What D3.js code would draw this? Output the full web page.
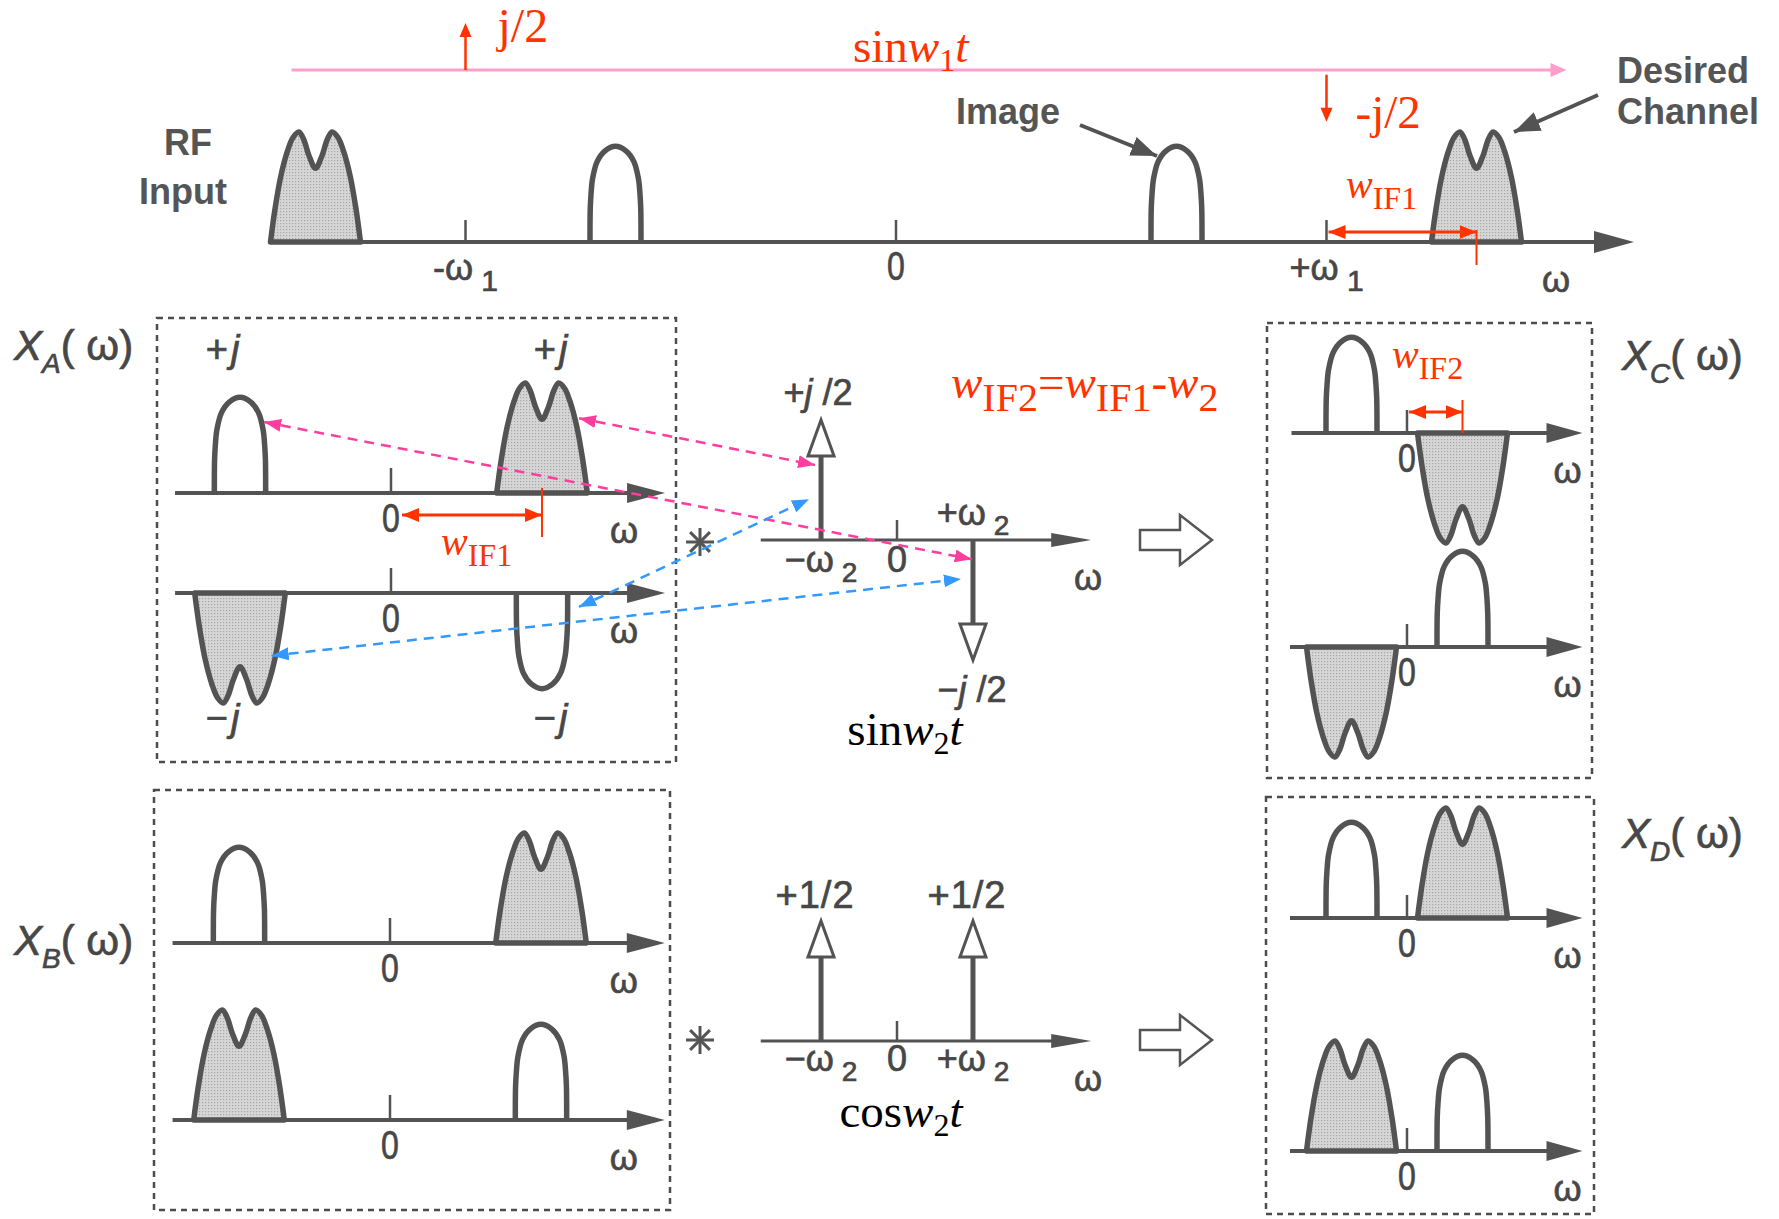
<!DOCTYPE html>
<html>
<head>
<meta charset="utf-8">
<script src="https://cdn.jsdelivr.net/npm/d3@7"></script>
<style>
  body { margin: 0; background: #fff; }
  svg { display: block; }
</style>
</head>
<body>
<div id="chart"></div>
<script>
// Frequencies are in units of the first IF (wIF1 = 1)
const W1 = 2.87;
const IF1 = 1;
const W2 = 0.63;
const IF2 = 0.37;

const rfBands = [
  { f: -W1 - IF1, shape: 'M', amp: 1 },
  { f: -W1 + IF1, shape: 'bump', amp: 1 },
  { f: W1 - IF1, shape: 'bump', amp: 1 },
  { f: W1 + IF1, shape: 'M', amp: 1 },
];
const rfTicks = [
  { f: -W1, text: '-ω', sub: '1' },
  { f: 0, text: '0' },
  { f: W1, text: '+ω', sub: '1' },
];
const loImpulses = [
  { f: -W1, amp: 1, label: 'j/2' },
  { f: W1, amp: -1, label: '-j/2' },
];

const xaUpper = [{ f: -IF1, shape: 'bump', amp: 1 }, { f: IF1, shape: 'M', amp: 1 }];
const xaLower = [{ f: -IF1, shape: 'M', amp: -1 }, { f: IF1, shape: 'bump', amp: -1 }];
const xaLabels = [
  { row: 'aU', f: -IF1, text: '+' },
  { row: 'aU', f: IF1, text: '+' },
  { row: 'aL', f: -IF1, text: '−' },
  { row: 'aL', f: IF1, text: '−' },
];
const xbUpper = [{ f: -IF1, shape: 'bump', amp: 1 }, { f: IF1, shape: 'M', amp: 1 }];
const xbLower = [{ f: -IF1, shape: 'M', amp: 1 }, { f: IF1, shape: 'bump', amp: 1 }];
const xcUpper = [{ f: -IF2, shape: 'bump', amp: 1 }, { f: IF2, shape: 'M', amp: -1 }];
const xcLower = [{ f: -IF2, shape: 'M', amp: -1 }, { f: IF2, shape: 'bump', amp: 1 }];
const xdUpper = [{ f: -IF2, shape: 'bump', amp: 1 }, { f: IF2, shape: 'M', amp: 1 }];
const xdLower = [{ f: -IF2, shape: 'M', amp: 1 }, { f: IF2, shape: 'bump', amp: 1 }];

const sinImpulses = [{ f: -W2, amp: 1, sign: '+' }, { f: W2, amp: -1, sign: '−' }];
const cosImpulses = [{ f: -W2, amp: 1 }, { f: W2, amp: 1 }];
const lo2Ticks = [
  { f: -W2, text: '−ω', sub: '2' },
  { f: 0, text: '0' },
  { f: W2, text: '+ω', sub: '2' },
];

// [axis, f, amplitude] pairs joined by the coloured dashed arrows
const connectors = [
  { color: 'pink', from: ['aU', 1.245, 0.68], to: ['sin', -0.68, 0.625] },
  { color: 'pink', from: ['aU', -0.84, 0.645], to: ['sin', 0.62, -0.16] },
  { color: 'blue', from: ['aL', 1.245, -0.127], to: ['sin', -0.73, 0.34] },
  { color: 'blue', from: ['aL', -0.79, -0.57], to: ['sin', 0.53, -0.325] },
];

const INK = '#474747';
const SHAPE = '#535353';
const RED = '#ff3300';
const PINK_LINE = '#ff9dcc';
const DASH = { pink: '#ff3d9e', blue: '#3399ff' };
const SANS = "'Liberation Sans', Arial, Helvetica, sans-serif";
const SERIF = "'Liberation Serif', 'Times New Roman', serif";

const M_HALF = 0.3;
const BUMP_HALF = 0.17;
const M_PROFILE = [[-1, 0], [-0.9, 0.3], [-0.77, 0.6], [-0.62, 0.83], [-0.5, 0.95], [-0.37, 1],
  [-0.26, 0.93], [-0.14, 0.78], [0, 0.67], [0.14, 0.78], [0.26, 0.93], [0.37, 1], [0.5, 0.95],
  [0.62, 0.83], [0.77, 0.6], [0.9, 0.3], [1, 0]];
const BUMP_PROFILE = [[-1, 0], [-0.99, 0.35], [-0.96, 0.5], [-0.9, 0.66], [-0.72, 0.84], [-0.42, 0.95],
  [0, 1], [0.42, 0.95], [0.72, 0.84], [0.9, 0.66], [0.96, 0.5], [0.99, 0.35], [1, 0]];
const BUMP_PEAK = 0.87;

const big = { k: 151, h: 110, tick: 25, head: [38, 10], lw: 4 };
const small = { k: 150, h: 110, tick: 23, head: [36, 10], lw: 4 };
const lo = { k: 120.6, h: 120, tick: 20, head: [40, 7], lw: 3 };
const AXES = {
  rf: { x0: 896, y: 242, k: 150, h: 110, tick: 22, head: [40, 11], lw: 4, from: -4.18, to: 4.92, wdx: -78 },
  aU: { ...big, x0: 391, y: 493, from: -1.43, to: 1.815, wdx: -41 },
  aL: { ...big, x0: 391, y: 593, from: -1.43, to: 1.815, wdx: -41 },
  bU: { ...big, x0: 390, y: 943, from: -1.44, to: 1.82, wdx: -41 },
  bL: { ...big, x0: 390, y: 1120, from: -1.44, to: 1.82, wdx: -41 },
  cU: { ...small, x0: 1407, y: 433, from: -0.77, to: 1.17, wdx: -15 },
  cL: { ...small, x0: 1407, y: 647, from: -0.78, to: 1.17, wdx: -15 },
  dU: { ...small, x0: 1407, y: 918, from: -0.78, to: 1.17, wdx: -15 },
  dL: { ...small, x0: 1407, y: 1151, from: -0.78, to: 1.17, wdx: -15 },
  sin: { ...lo, x0: 897, y: 540, from: -1.13, to: 1.61, wdx: -3 },
  cos: { ...lo, x0: 897, y: 1041, from: -1.13, to: 1.61, wdx: -3 },
};

const ax = {};
Object.entries(AXES).forEach(([id, c]) => {
  ax[id] = {
    ...c,
    x: d3.scaleLinear().domain([0, 1]).range([c.x0, c.x0 + c.k]),
    y: d3.scaleLinear().domain([0, 1]).range([c.y, c.y - c.h]),
  };
});
// the LO spectrum line shares the RF frequency scale
const loAx = {
  x: ax.rf.x,
  y: d3.scaleLinear().domain([0, 1]).range([70, 23]),
};

const svg = d3.select('#chart').append('svg')
  .attr('width', 1779).attr('height', 1219).attr('viewBox', [0, 0, 1779, 1219]);
svg.append('rect').attr('width', 1779).attr('height', 1219).attr('fill', '#fff');

const defs = svg.append('defs');
function marker(id, color, len, wid) {
  defs.append('marker').attr('id', id)
    .attr('markerUnits', 'userSpaceOnUse')
    .attr('markerWidth', len).attr('markerHeight', wid)
    .attr('refX', len).attr('refY', wid / 2)
    .attr('orient', 'auto-start-reverse')
    .append('path').attr('d', `M0,0L${len},${wid / 2}L0,${wid}Z`).attr('fill', color);
}
marker('m-pink', DASH.pink, 17, 13);
marker('m-blue', DASH.blue, 17, 13);
marker('m-red', RED, 17, 14);
marker('m-gray', SHAPE, 26, 20);

// stippled grey fill of the wanted channel
const pat = defs.append('pattern').attr('id', 'stipple')
  .attr('patternUnits', 'userSpaceOnUse').attr('width', 3).attr('height', 3);
pat.append('rect').attr('width', 3).attr('height', 3).attr('fill', '#d6d6d6');
pat.append('rect').attr('x', 1).attr('y', 1).attr('width', 1.2).attr('height', 1.2).attr('fill', '#a6a6a6');

const g = svg.append('g');

function rich(x, y, parts, o = {}) {
  const size = o.size || 34;
  const t = g.append('text')
    .attr('transform', `translate(${x},${y}) scale(${o.sx || 1},1)`)
    .attr('text-anchor', o.anchor || 'middle')
    .attr('font-family', o.family || SANS)
    .attr('font-size', size)
    .attr('font-weight', o.weight || 'normal')
    .attr('fill', o.color || INK);
  if (o.ls) t.attr('letter-spacing', o.ls);
  if (o.thick) t.attr('stroke', o.color || INK).attr('stroke-width', o.thick);
  let shift = 0;
  parts.forEach((p) => {
    if (typeof p === 'string') p = { t: p };
    const s = t.append('tspan').text(p.t);
    if (p.i) s.attr('font-style', 'italic');
    const target = p.sub ? size * (o.subDy ?? 0.3) : 0;
    if (target !== shift) {
      s.attr('dy', target - shift);
      shift = target;
    }
    if (p.sub) s.attr('font-size', o.subSize || size * 0.7);
  });
  return t;
}
const grayText = { thick: 0.7 };

function drawAxis(a) {
  const x1 = a.x(a.from);
  const x2 = a.x(a.to);
  const [len, hw] = a.head;
  g.append('line').attr('x1', x1).attr('x2', x2 - len + 2).attr('y1', a.y(0)).attr('y2', a.y(0))
    .attr('stroke', SHAPE).attr('stroke-width', a.lw);
  g.append('path')
    .attr('d', `M${x2},${a.y(0)}L${x2 - len},${a.y(0) - hw}L${x2 - len},${a.y(0) + hw}Z`)
    .attr('fill', SHAPE);
}

function drawTick(a, f) {
  g.append('line').attr('x1', a.x(f)).attr('x2', a.x(f))
    .attr('y1', a.y(0)).attr('y2', a.y(0) - a.tick)
    .attr('stroke', SHAPE).attr('stroke-width', 2.5);
}

function drawOmega(a) {
  rich(a.x(a.to) + a.wdx, a.y(0) + 50, ['ω'], { ...grayText, size: 36 });
}

const bandLine = d3.line().curve(d3.curveCatmullRom.alpha(0.5));
function drawBands(a, bands) {
  bands.forEach((b) => {
    const isM = b.shape === 'M';
    const prof = isM ? M_PROFILE : BUMP_PROFILE;
    const half = isM ? M_HALF : BUMP_HALF;
    const peak = isM ? 1 : BUMP_PEAK;
    const pts = prof.map(([u, v]) => [a.x(b.f + u * half), a.y(v * peak * b.amp)]);
    g.append('path')
      .attr('d', bandLine(pts) + (isM ? 'Z' : ''))
      .attr('fill', isM ? 'url(#stipple)' : 'none')
      .attr('stroke', SHAPE).attr('stroke-width', 5.5)
      .attr('stroke-linejoin', 'round');
  });
}

function drawPanel(id, bands) {
  const a = ax[id];
  drawBands(a, bands);
  drawAxis(a);
  drawTick(a, 0);
  rich(a.x(0), a.y(0) + 39, ['0'], { ...grayText, size: 40, sx: 0.8 });
  drawOmega(a);
}

function dashedBox(x1, y1, x2, y2) {
  g.append('rect').attr('x', x1).attr('y', y1).attr('width', x2 - x1).attr('height', y2 - y1)
    .attr('fill', 'none').attr('stroke', '#4d4d4d').attr('stroke-width', 2.5)
    .attr('stroke-dasharray', '6 5');
}

function redSpan(xA, xB, y, tickTop, tickBottom) {
  g.append('line').attr('x1', xA).attr('x2', xB).attr('y1', y).attr('y2', y)
    .attr('stroke', RED).attr('stroke-width', 3)
    .attr('marker-start', 'url(#m-red)').attr('marker-end', 'url(#m-red)');
  g.append('line').attr('x1', xB).attr('x2', xB).attr('y1', tickTop).attr('y2', tickBottom)
    .attr('stroke', RED).attr('stroke-width', 2);
}

function openImpulse(a, f, amp) {
  const x = a.x(f);
  const tip = a.y(amp);
  const base = a.y(amp * (1 - 36 / a.h));
  g.append('line').attr('x1', x).attr('x2', x).attr('y1', a.y(0)).attr('y2', base)
    .attr('stroke', SHAPE).attr('stroke-width', 5);
  g.append('path').attr('d', `M${x},${tip}L${x - 13},${base}L${x + 13},${base}Z`)
    .attr('fill', '#fff').attr('stroke', SHAPE).attr('stroke-width', 3)
    .attr('stroke-linejoin', 'miter');
}

function star(x, y) {
  [0, 45, 90, 135].forEach((deg) => {
    const r = 14;
    const dx = r * Math.cos((deg * Math.PI) / 180);
    const dy = r * Math.sin((deg * Math.PI) / 180);
    g.append('line').attr('x1', x - dx).attr('x2', x + dx).attr('y1', y - dy).attr('y2', y + dy)
      .attr('stroke', '#555').attr('stroke-width', 3);
  });
}

function hollowArrow(x, y) {
  const pts = [[x, y - 10], [x + 40, y - 10], [x + 40, y - 25], [x + 72, y], [x + 40, y + 25],
    [x + 40, y + 10], [x, y + 10]];
  g.append('path').attr('d', d3.line()(pts) + 'Z')
    .attr('fill', '#fff').attr('stroke', '#555').attr('stroke-width', 2.5);
}

// ---------- top: RF input and LO spectrum ----------
const rf = ax.rf;
drawBands(rf, rfBands);
drawAxis(rf);
rfTicks.forEach((t) => {
  drawTick(rf, t.f);
  const parts = t.sub ? [t.text, { t: ' ' + t.sub, sub: true }] : [t.text];
  rich(rf.x(t.f), rf.y(0) + 38, parts, { ...grayText, size: t.sub ? 36 : 40, sx: t.sub ? 1 : 0.8, subSize: 30, subDy: 0.3 });
});
drawOmega(rf);

g.append('line').attr('x1', loAx.x(-4.03)).attr('x2', loAx.x(4.47) - 14)
  .attr('y1', loAx.y(0)).attr('y2', loAx.y(0))
  .attr('stroke', PINK_LINE).attr('stroke-width', 3);
g.append('path')
  .attr('d', `M${loAx.x(4.47)},${loAx.y(0)}L${loAx.x(4.47) - 16},${loAx.y(0) - 7}L${loAx.x(4.47) - 16},${loAx.y(0) + 7}Z`)
  .attr('fill', PINK_LINE);
loImpulses.forEach((p) => {
  const x = loAx.x(p.f);
  const start = p.amp > 0 ? loAx.y(0) : loAx.y(-0.1);
  const tip = loAx.y(p.amp > 0 ? p.amp : -1.1);
  const dir = p.amp > 0 ? 1 : -1;
  g.append('line').attr('x1', x).attr('x2', x).attr('y1', start).attr('y2', tip + dir * 10)
    .attr('stroke', RED).attr('stroke-width', 2.5);
  g.append('path').attr('d', `M${x},${tip}L${x - 6},${tip + dir * 14}L${x + 6},${tip + dir * 14}Z`)
    .attr('fill', RED);
});
rich(loAx.x(loImpulses[0].f) + 32, 42, [loImpulses[0].label], { family: SERIF, size: 48, color: RED, anchor: 'start' });
rich(loAx.x(loImpulses[1].f) + 29, 128, [loImpulses[1].label], { family: SERIF, size: 47, color: RED, anchor: 'start' });
rich(853, 62, ['sin', { t: 'w', i: true }, { t: '1', sub: true }, { t: 't', i: true }],
  { family: SERIF, size: 47, color: RED, anchor: 'start', subSize: 32, subDy: 0.2 });

const boldText = { size: 36, weight: 'bold', color: '#555' };
rich(188, 155, ['RF'], boldText);
rich(183, 204, ['Input'], boldText);
rich(956, 124, ['Image'], { ...boldText, anchor: 'start' });
rich(1617, 83, ['Desired'], { ...boldText, anchor: 'start' });
rich(1617, 124, ['Channel'], { ...boldText, anchor: 'start' });
g.append('line').attr('x1', 1080).attr('y1', 125).attr('x2', 1157).attr('y2', 156)
  .attr('stroke', SHAPE).attr('stroke-width', 4).attr('marker-end', 'url(#m-gray)');
g.append('line').attr('x1', 1598).attr('y1', 95).attr('x2', 1514).attr('y2', 132)
  .attr('stroke', SHAPE).attr('stroke-width', 4).attr('marker-end', 'url(#m-gray)');

redSpan(rf.x(W1) + 2, rf.x(W1 + IF1), 232, 230, 265);
const wif = { family: SERIF, size: 40, color: RED, anchor: 'start', subSize: 32, subDy: 0.27 };
rich(1346, 198, [{ t: 'w', i: true }, { t: 'IF1', sub: true }], wif);

// ---------- X_A ----------
const titleText = { ...grayText, size: 42, anchor: 'start', subSize: 28, subDy: 0.3 };
dashedBox(157, 318, 676, 762);
drawPanel('aU', xaUpper);
drawPanel('aL', xaLower);
xaLabels.forEach((l) => {
  const a = ax[l.row];
  const up = l.row === 'aU';
  rich(a.x(l.f) + (l.f < 0 ? -16 : 10), up ? 362 : 731, [l.text, { t: 'j', i: true }],
    { ...grayText, size: 38, ls: 3 });
});
rich(14, 360, [{ t: 'X', i: true }, { t: 'A', i: true, sub: true }, '( ω)'], titleText);
redSpan(ax.aU.x(0) + 11, ax.aU.x(IF1), 515, 488, 537);
rich(441, 555, [{ t: 'w', i: true }, { t: 'IF1', sub: true }], wif);

// ---------- X_B ----------
dashedBox(154, 790, 670, 1210);
drawPanel('bU', xbUpper);
drawPanel('bL', xbLower);
rich(14, 955, [{ t: 'X', i: true }, { t: 'B', i: true, sub: true }, '( ω)'], titleText);

// ---------- X_C ----------
dashedBox(1267, 323, 1592, 778);
drawPanel('cU', xcUpper);
drawPanel('cL', xcLower);
rich(1622, 370, [{ t: 'X', i: true }, { t: 'C', i: true, sub: true }, '( ω)'], titleText);
redSpan(ax.cU.x(0) + 2, ax.cU.x(IF2), 412, 400, 433);
rich(1392, 368, [{ t: 'w', i: true }, { t: 'IF2', sub: true }], wif);

// ---------- X_D ----------
dashedBox(1266, 797, 1594, 1214);
drawPanel('dU', xdUpper);
drawPanel('dL', xdLower);
rich(1622, 848, [{ t: 'X', i: true }, { t: 'D', i: true, sub: true }, '( ω)'], titleText);

// ---------- second LO: sin and cos ----------
const loLabel = { ...grayText, size: 36, subSize: 28, subDy: 0.28 };
const s = ax.sin;
drawAxis(s);
drawTick(s, 0);
sinImpulses.forEach((p) => openImpulse(s, p.f, p.amp));
rich(s.x(-W2) - 3, 405, ['+', { t: 'j', i: true }, ' /2'], loLabel);
rich(s.x(W2) - 1, 702, ['−', { t: 'j', i: true }, ' /2'], loLabel);
lo2Ticks.forEach((t) => {
  const parts = t.sub ? [t.text, { t: ' ' + t.sub, sub: true }] : [t.text];
  const above = t.f > 0;
  rich(s.x(t.f), above ? 525 : 572, parts, loLabel);
});
drawOmega(s);
rich(905, 745, ['sin', { t: 'w', i: true }, { t: '2', sub: true }, { t: 't', i: true }],
  { family: SERIF, size: 47, color: '#000', subSize: 32, subDy: 0.2 });

const c = ax.cos;
drawAxis(c);
drawTick(c, 0);
cosImpulses.forEach((p) => openImpulse(c, p.f, p.amp));
cosImpulses.forEach((p) => rich(c.x(p.f) - 6, 908, ['+1/2'], { ...grayText, size: 38, ls: 1 }));
lo2Ticks.forEach((t) => {
  const parts = t.sub ? [t.text, { t: ' ' + t.sub, sub: true }] : [t.text];
  rich(c.x(t.f), 1071, parts, loLabel);
});
drawOmega(c);
rich(901, 1127, ['cos', { t: 'w', i: true }, { t: '2', sub: true }, { t: 't', i: true }],
  { family: SERIF, size: 47, color: '#000', subSize: 32, subDy: 0.2 });

rich(951, 398, [{ t: 'w', i: true }, { t: 'IF2', sub: true }, '=', { t: 'w', i: true }, { t: 'IF1', sub: true },
  '-', { t: 'w', i: true }, { t: '2', sub: true }],
  { family: SERIF, size: 47, color: RED, anchor: 'start', subSize: 40, subDy: 0.28 });

star(700, 542);
star(700, 1040);
hollowArrow(1140, 540);
hollowArrow(1140, 1040);

// ---------- dashed convolution arrows ----------
connectors.forEach((cn) => {
  const [fa, ff, fv] = cn.from;
  const [ta, tf, tv] = cn.to;
  g.append('line')
    .attr('x1', ax[fa].x(ff)).attr('y1', ax[fa].y(fv))
    .attr('x2', ax[ta].x(tf)).attr('y2', ax[ta].y(tv))
    .attr('stroke', DASH[cn.color]).attr('stroke-width', 2.5)
    .attr('stroke-dasharray', '10 7')
    .attr('marker-start', `url(#m-${cn.color})`)
    .attr('marker-end', `url(#m-${cn.color})`);
});
</script>
</body>
</html>
